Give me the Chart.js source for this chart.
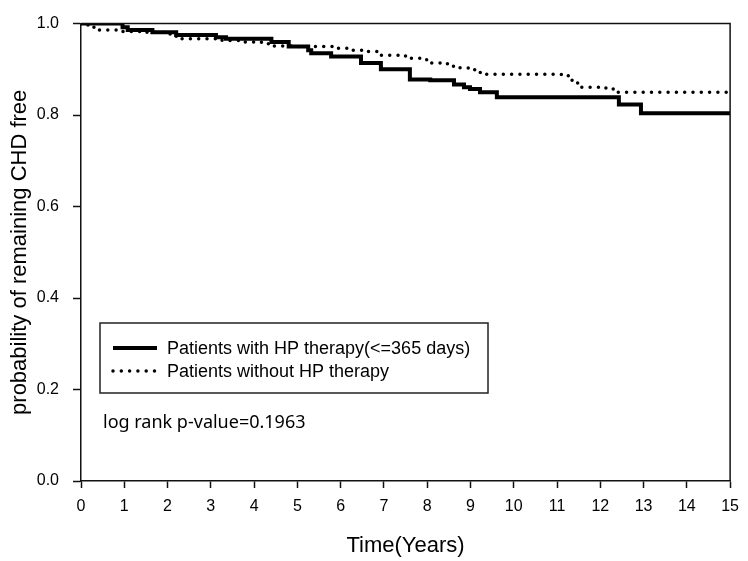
<!DOCTYPE html>
<html>
<head>
<meta charset="utf-8">
<script src="https://cdn.jsdelivr.net/npm/chart.js@4.4.1/dist/chart.umd.min.js"></script>
<style>
  html, body { margin: 0; padding: 0; background: #fff; }
</style>
</head>
<body>
<canvas id="kmChart" width="748" height="561"></canvas>
<script>
// event times (years) and survival after each step
const hpTimes = [0, 0.96, 1.08, 1.65, 2.2, 3.12, 3.35, 4.4, 4.8, 5.25, 5.32, 5.78, 6.47, 6.93, 7.6, 8.07, 8.62, 8.85, 8.99, 9.22, 9.61, 12.43, 12.94, 15];
const hpSurv  = [1.0, 0.992, 0.986, 0.981, 0.975, 0.970, 0.967, 0.960, 0.950, 0.942, 0.935, 0.928, 0.914, 0.900, 0.878, 0.876, 0.867, 0.861, 0.857, 0.850, 0.839, 0.823, 0.804, 0.804];

const noHpTimes = [0, 0.16, 0.32, 0.9, 1.47, 2.04, 2.2, 3.26, 3.72, 4.17, 4.4, 5.0, 5.94, 6.28, 6.63, 6.86, 7.5, 7.55, 7.84, 8.05, 8.4, 8.58, 8.76, 8.97, 9.1, 9.31, 11.1, 11.26, 11.44, 11.56, 12.13, 12.3, 15];
const noHpSurv  = [1.0, 0.992, 0.986, 0.983, 0.981, 0.977, 0.967, 0.963, 0.960, 0.956, 0.951, 0.950, 0.946, 0.942, 0.939, 0.931, 0.928, 0.924, 0.921, 0.914, 0.912, 0.907, 0.903, 0.899, 0.893, 0.889, 0.886, 0.876, 0.870, 0.861, 0.857, 0.850, 0.850];

const seriesNames = ['Patients with HP therapy(<=365 days)', 'Patients without HP therapy'];
const xTickValues = [0, 1, 2, 3, 4, 5, 6, 7, 8, 9, 10, 11, 12, 13, 14, 15];
const yTickValues = [0, 0.2, 0.4, 0.6, 0.8, 1.0];
const pValueText = 'log rank p-value=0.1963';

const toPoints = (xs, ys) => xs.map((x, i) => ({ x: x, y: ys[i] }));

const solidStyle = { borderColor: '#000', borderWidth: 4, borderDash: [] };
const dotStyle = { borderColor: '#000', borderWidth: 3.5, borderDash: [0, 8.3], borderCapStyle: 'round' };

// top + right edges of the plot box
const framePlugin = {
    id: 'frame',
    afterDraw(chart) {
        const { ctx, chartArea: a } = chart;
        ctx.save();
        ctx.strokeStyle = '#111';
        ctx.lineWidth = 1.5;
        ctx.beginPath();
        ctx.moveTo(a.left, a.top);
        ctx.lineTo(a.right, a.top);
        ctx.lineTo(a.right, a.bottom);
        ctx.stroke();
        ctx.restore();
    }
};

// boxed legend and the p-value note inside the plot
const notePlugin = {
    id: 'notes',
    afterDraw(chart) {
        const { ctx, chartArea: a } = chart;
        const boxL = a.left + 19, boxT = 323, boxR = 488, boxB = 393;
        ctx.save();
        ctx.fillStyle = '#fff';
        ctx.fillRect(boxL, boxT, boxR - boxL, boxB - boxT);
        ctx.strokeStyle = '#222';
        ctx.lineWidth = 1.5;
        ctx.strokeRect(boxL, boxT, boxR - boxL, boxB - boxT);

        const rows = [348, 371];
        const styles = [solidStyle, dotStyle];
        rows.forEach((ry, i) => {
            const s = styles[i];
            ctx.beginPath();
            ctx.lineWidth = s.borderWidth;
            ctx.strokeStyle = s.borderColor;
            ctx.setLineDash(s.borderDash);
            ctx.lineCap = s.borderCapStyle || 'butt';
            ctx.moveTo(boxL + 13, ry);
            ctx.lineTo(boxL + 57, ry);
            ctx.stroke();
            ctx.setLineDash([]);
            ctx.fillStyle = '#000';
            ctx.font = '18px "Liberation Sans", Arial, sans-serif';
            ctx.textBaseline = 'middle';
            ctx.textAlign = 'left';
            ctx.fillText(seriesNames[i], boxL + 67, ry + 1);
        });

        ctx.font = '18px "Noto Sans", sans-serif';
        ctx.textBaseline = 'alphabetic';
        ctx.fillText(pValueText, a.left + 22, 428);
        ctx.restore();
    }
};

new Chart(document.getElementById('kmChart'), {
    type: 'line',
    data: {
        datasets: [
            Object.assign({
                label: seriesNames[0],
                data: toPoints(hpTimes, hpSurv),
                stepped: 'before',
                pointRadius: 0,
                fill: false
            }, solidStyle),
            Object.assign({
                label: seriesNames[1],
                data: toPoints(noHpTimes, noHpSurv),
                stepped: 'before',
                pointRadius: 0,
                fill: false
            }, dotStyle)
        ]
    },
    options: {
        responsive: false,
        animation: false,
        devicePixelRatio: 1,
        layout: { padding: { top: 9, right: 13, left: 0, bottom: 0 } },
        plugins: {
            legend: { display: false },
            tooltip: { enabled: false }
        },
        scales: {
            x: {
                type: 'linear',
                min: 0,
                max: 15,
                afterFit(scale) { scale.height = 80; },
                afterBuildTicks(scale) { scale.ticks = xTickValues.map(v => ({ value: v })); },
                ticks: {
                    color: '#000',
                    font: { family: '"Liberation Sans", Arial, sans-serif', size: 16 },
                    padding: 9,
                    maxRotation: 0,
                    autoSkip: false
                },
                grid: { drawOnChartArea: false, drawTicks: true, tickLength: 7, color: '#111', tickWidth: 1.5 },
                border: { color: '#111', width: 1.5 },
                title: {
                    display: true,
                    text: 'Time(Years)',
                    color: '#000',
                    font: { family: '"Liberation Sans", Arial, sans-serif', size: 22 },
                    padding: { top: 0, bottom: 2 }
                }
            },
            y: {
                min: 0,
                max: 1,
                afterFit(scale) { scale.width = 81; },
                afterBuildTicks(scale) { scale.ticks = yTickValues.map(v => ({ value: v })); },
                ticks: {
                    color: '#000',
                    font: { family: '"Liberation Sans", Arial, sans-serif', size: 16 },
                    padding: 14,
                    callback: v => v.toFixed(1)
                },
                grid: { drawOnChartArea: false, drawTicks: true, tickLength: 8, color: '#111', tickWidth: 1.5 },
                border: { color: '#111', width: 1.5 },
                title: {
                    display: true,
                    text: 'probability of remaining CHD free',
                    color: '#000',
                    font: { family: '"Liberation Sans", Arial, sans-serif', size: 22 },
                    padding: { top: 7, bottom: 0 }
                }
            }
        }
    },
    plugins: [framePlugin, notePlugin]
});
</script>
</body>
</html>
